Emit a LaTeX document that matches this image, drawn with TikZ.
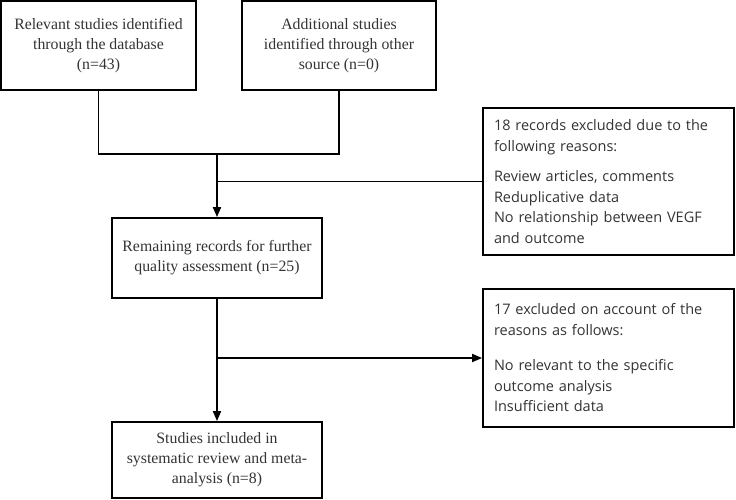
\documentclass[tikz,border=0pt]{standalone}
\usepackage{fontspec}
\setmainfont{Liberation Serif}
\newfontfamily\reasonfont{Open Sans}
\usetikzlibrary{arrows.meta}

\begin{document}
\begin{tikzpicture}[x=1pt, y=-1pt,
		stagebox/.style={draw, line width=1.8pt, text=black!80, align=center, inner sep=4pt,
			font=\fontsize{15.8}{20}\selectfont},
		reasonbox/.style={draw, line width=1.8pt, text=black!80, align=left, inner sep=0pt,
			text width=229pt, minimum width=251pt, font=\reasonfont\fontsize{14.5}{20.5}\selectfont},
		link/.style={line width=1.8pt},
		arrow/.style={link, -{Triangle[length=10pt, width=8pt]}}]
		\useasboundingbox (0,0) rectangle (736,499);

		% records from the two sources
		\node[stagebox, minimum width=195pt, minimum height=89pt] (database) at (98.5,45.5) {Relevant studies identified\\through the database\\(n=43)};
		\node[stagebox, minimum width=194pt, minimum height=89pt] (othersrc) at (339,45.5) {Additional studies\\identified through other\\source (n=0)};

		% screening steps
		\node[stagebox, minimum width=210pt, minimum height=80pt] (remaining) at (217,258) {Remaining records for further\\quality assessment (n=25)};
		\node[stagebox, minimum width=210pt, minimum height=76pt] (included) at (217,460) {Studies included in\\systematic review and meta-\\analysis (n=8)};

		% exclusions
		\node[reasonbox, minimum height=147pt] (excluded1) at (608.5,181.5) {18 records excluded due to the\\following reasons:\\[10pt]Review articles, comments\\Reduplicative data\\No relationship between VEGF\\and outcome};
		\node[reasonbox, minimum height=138pt] (excluded2) at (608.5,358) {17 excluded on account of the\\reasons as follows:\\[15pt]No relevant to the specific\\outcome analysis\\Insufficient data};

		\coordinate (merge) at (217,154);
		\coordinate (branch1) at (217,181.5);
		\coordinate (branch2) at (217,358);

		\draw[link] (database.south) |- (merge);
		\draw[link] (othersrc.south) |- (merge);
		\draw[arrow] (merge) -- (remaining.north);
		\draw[link] (branch1) -- (excluded1.west);
		\draw[arrow] (remaining.south) -- (included.north);
		\draw[arrow] (branch2) -- (excluded2.west);
	\end{tikzpicture}
\end{document}
